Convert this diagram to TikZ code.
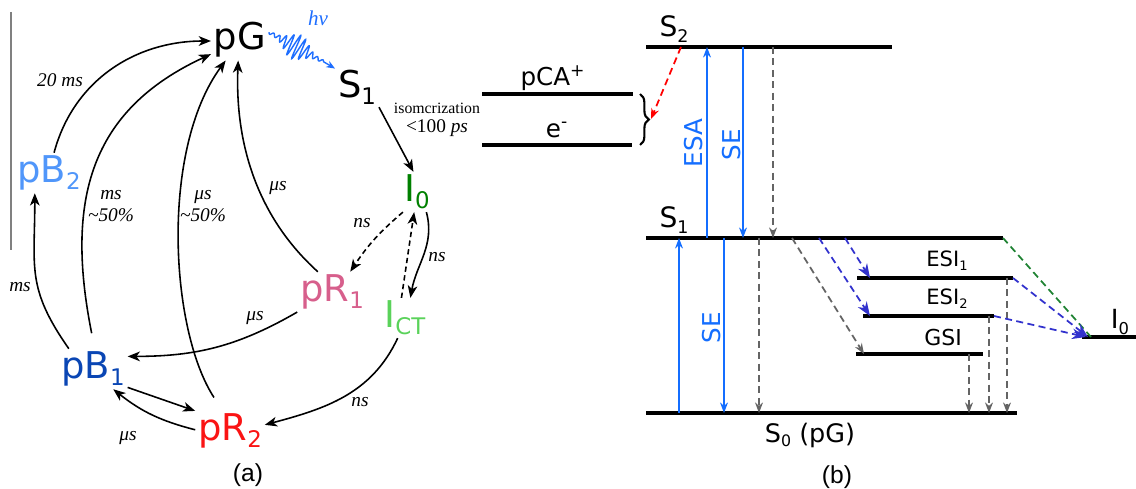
\documentclass[tikz,border=0pt]{standalone}
\usepackage{fontspec}
\setmainfont{Liberation Serif}
\newfontfamily\statefont{DejaVu Sans}
\newfontfamily\capfont{Liberation Sans}
\usetikzlibrary{arrows.meta,decorations.pathreplacing}

\definecolor{cB2}{RGB}{80,150,250}
\definecolor{cB1}{RGB}{10,70,180}
\definecolor{cR2}{RGB}{250,20,20}
\definecolor{cR1}{RGB}{215,95,140}
\definecolor{cICT}{RGB}{90,210,90}
\definecolor{cI0}{RGB}{0,128,0}
\definecolor{cPh}{RGB}{30,110,255}
\definecolor{cBl}{RGB}{20,110,255}
\definecolor{cGr}{RGB}{100,100,100}
\definecolor{cBd}{RGB}{50,50,205}
\definecolor{cGd}{RGB}{30,130,50}
\newcommand{\lsub}[1]{\raisebox{-0.35ex}{\scalebox{0.62}{#1}}}

\begin{document}
\begin{tikzpicture}[x=0.02cm,y=-0.02cm,
  state/.style={font=\statefont\fontsize{21}{24}\selectfont,inner sep=1.5pt},
  tlab/.style={font=\fontsize{11}{13}\selectfont\itshape},
  arr/.style={-{Stealth[length=7pt,width=5.5pt,inset=2pt]},line width=0.9pt},
  darr/.style={arr,dash pattern=on 3pt off 2pt},
  lvl/.style={font=\statefont\fontsize{#1}{#1}\selectfont},
  level/.style={line width=2pt},
  bsol/.style={cBl,line width=0.9pt,-{Stealth[length=6pt,width=4.5pt]}},
  gdash/.style={cGr,line width=1pt,dash pattern=on 4pt off 2.5pt,-{Stealth[length=6pt,width=4.5pt]}},
  bdash/.style={cBd,line width=1pt,dash pattern=on 4pt off 2.5pt,-{Stealth[length=8pt,width=6pt]}},
  gndash/.style={cGd,line width=1pt,dash pattern=on 4pt off 2.5pt},
  rdash/.style={red,line width=1pt,dash pattern=on 4pt off 2.5pt,-{Stealth[length=6pt,width=4.5pt]}},
  brc/.style={decorate,decoration={brace,amplitude=5pt},line width=1.2pt}]
\useasboundingbox (0,0) rectangle (1136,489);

% (a) photocycle
\draw[gray,line width=0.6pt] (11,12) -- (11,250);
\node[state] (pG) at (240,40) {pG};
\node[state] (S1a) at (357,87) {S\lsub{1}};
\node[state,text=cI0] (I0a) at (417,192) {I\lsub{0}};
\node[state,text=cICT] (ICT) at (405,318) {I\lsub{CT}};
\node[state,text=cR1] (pR1) at (332,292) {pR\lsub{1}};
\node[state,text=cR2] (pR2) at (230,431) {pR\lsub{2}};
\node[state,text=cB1] (pB1) at (93,369) {pB\lsub{1}};
\node[state,text=cB2] (pB2) at (49,173) {pB\lsub{2}};

\begin{scope}[shift={(pG.15)},rotate=-28.5]
  \draw[cPh,line width=0.8pt,-{Stealth[length=5pt,width=4pt]}] plot[domain=0:62,samples=220] (\x,{(1.5+11*(0.5-0.5*cos(\x*5.806))*(0.5-0.5*cos(\x*5.806)))*sin(\x*58)}) -- (S1a.140);
\end{scope}
\node[font=\fontsize{12}{14}\selectfont\itshape,text=cPh] (hv) at (318,18) {hν};

\draw[arr] (pB2.76) to[out=75,in=180] (pG.182);
\draw[arr] (pB1.140) to[out=125,in=-90,looseness=1.2] (pB2.235);
\draw[arr,shorten <=9pt] (pB1.85) .. controls (65,200) and (90,110) .. (pG.206);
\draw[arr,shorten <=9pt] (pR2.110) .. controls (170,330) and (160,150) .. (pG.235);
\draw[arr] (pR1.125) .. controls (255,215) and (235,140) .. (pG.265);
\draw[arr] (S1a.south east) -- (I0a.100);
\draw[darr] (I0a.235) to[bend right=8] (pR1.48);
\draw[darr] (ICT.100) -- (I0a.262);
\draw[arr] (I0a.295) to[out=-75,in=80] (ICT.75);
\draw[arr] (ICT.250) to[out=-115,in=15] (pR2.10);
\draw[arr] (pR1.210) to[out=-150,in=0] (pB1.20);
\draw[arr] (pB1.-28) -- (pR2.150);
\draw[arr] (pR2.178) to[bend left=12] (pB1.-45);

\node[tlab] (t20) at (60,80) {20 ms};
\node[tlab] (tB) at (20,287) {ms};
\node[tlab,align=center] (tB1) at (111,206) {ms\\\textasciitilde50\%};
\node[tlab,align=center] (tR2) at (203,206) {μs\\\textasciitilde50\%};
\node[tlab] (tR1) at (278,188) {μs};
\node[tlab] (tI0) at (362,223) {ns};
\node[tlab] (tCT) at (437,257) {ns};
\node[tlab] (tR1B) at (255,318) {μs};
\node[tlab] (tCTR) at (360,402) {ns};
\node[tlab] (tBR) at (128,438) {μs};
\node[align=center,inner sep=0pt] (iso) at (437,120) {{\fontsize{9}{9}\selectfont isomcrization}\\[-1pt]{\fontsize{11}{11}\selectfont <100 \textit{ps}}};
\node[font=\capfont\fontsize{14}{16}\selectfont] (capa) at (248,475) {(a)};

% (b) energy levels
\foreach \n/\xa/\xb/\y in {s2/646/892/47,ca/482/633/94,el/482/632/145,s1/646/1003/238,ei1/857/1013/278,ei2/863/994/316,gsi/856/983/354,s0/646/1017/413,ib/1082/1136/337}{
  \coordinate (\n-l) at (\xa,\y);
  \coordinate (\n-r) at (\xb,\y);
  \draw[level] (\n-l) -- (\n-r);
}
\node[lvl=16] (lS2) at (674,29) {S\lsub{2}};
\node[lvl=16] (lS1) at (674,220) {S\lsub{1}};
\node[lvl=14] (lCA) at (553,78) {pCA\textsuperscript{+}};
\node[lvl=14] (le) at (557,130) {e\textsuperscript{-}};
\node[lvl=12] (lE1) at (947,261) {ESI\lsub{1}};
\node[lvl=12] (lE2) at (947,299) {ESI\lsub{2}};
\node[lvl=12.5] (lG) at (943,338) {GSI};
\node[lvl=15] (lI0) at (1120,322) {I\lsub{0}};
\node[lvl=14.5] (lS0) at (810,435) {S\lsub{0} (pG)};
\node[lvl=14,rotate=90,text=cBl] (lESA) at (694,143) {ESA};
\node[lvl=14,rotate=90,text=cBl] (lSE) at (732,145) {SE};
\node[lvl=14,rotate=90,text=cBl] (lSE2) at (712,328) {SE};

\foreach \x/\a/\b/\s in {707/s1/s2/bsol,743/s2/s1/bsol,773/s2/s1/gdash,679/s0/s1/bsol,724/s1/s0/bsol,759/s1/s0/gdash,1007/ei1/s0/gdash,989/ei2/s0/gdash,969/gsi/s0/gdash}
  \draw[\s] (\a-l -| \x,0) -- (\b-l -| \x,0);

\draw[gdash] (s1-l -| 792,0) -- (gsi-l -| 864,0);
\draw[bdash] (s1-l -| 819,0) -- (ei2-l -| 870,0);
\draw[bdash] (s1-l -| 845,0) -- (ei1-l -| 870,0);
\draw[gndash] (s1-r) -- (ib-l -| 1091,0);
\draw[bdash] (ei1-r) -- (ib-l -| 1088,0);
\draw[bdash] (ei2-r) -- (ib-l -| 1086,0);

\coordinate (brtip) at (651,119);
\draw[brc] (ca-r -| 640,0) -- (el-r -| 640,0);
\draw[rdash] (s2-l -| 681,0) -- (brtip);
\node[font=\capfont\fontsize{14}{16}\selectfont] (capb) at (837,477) {(b)};
\end{tikzpicture}
\end{document}
